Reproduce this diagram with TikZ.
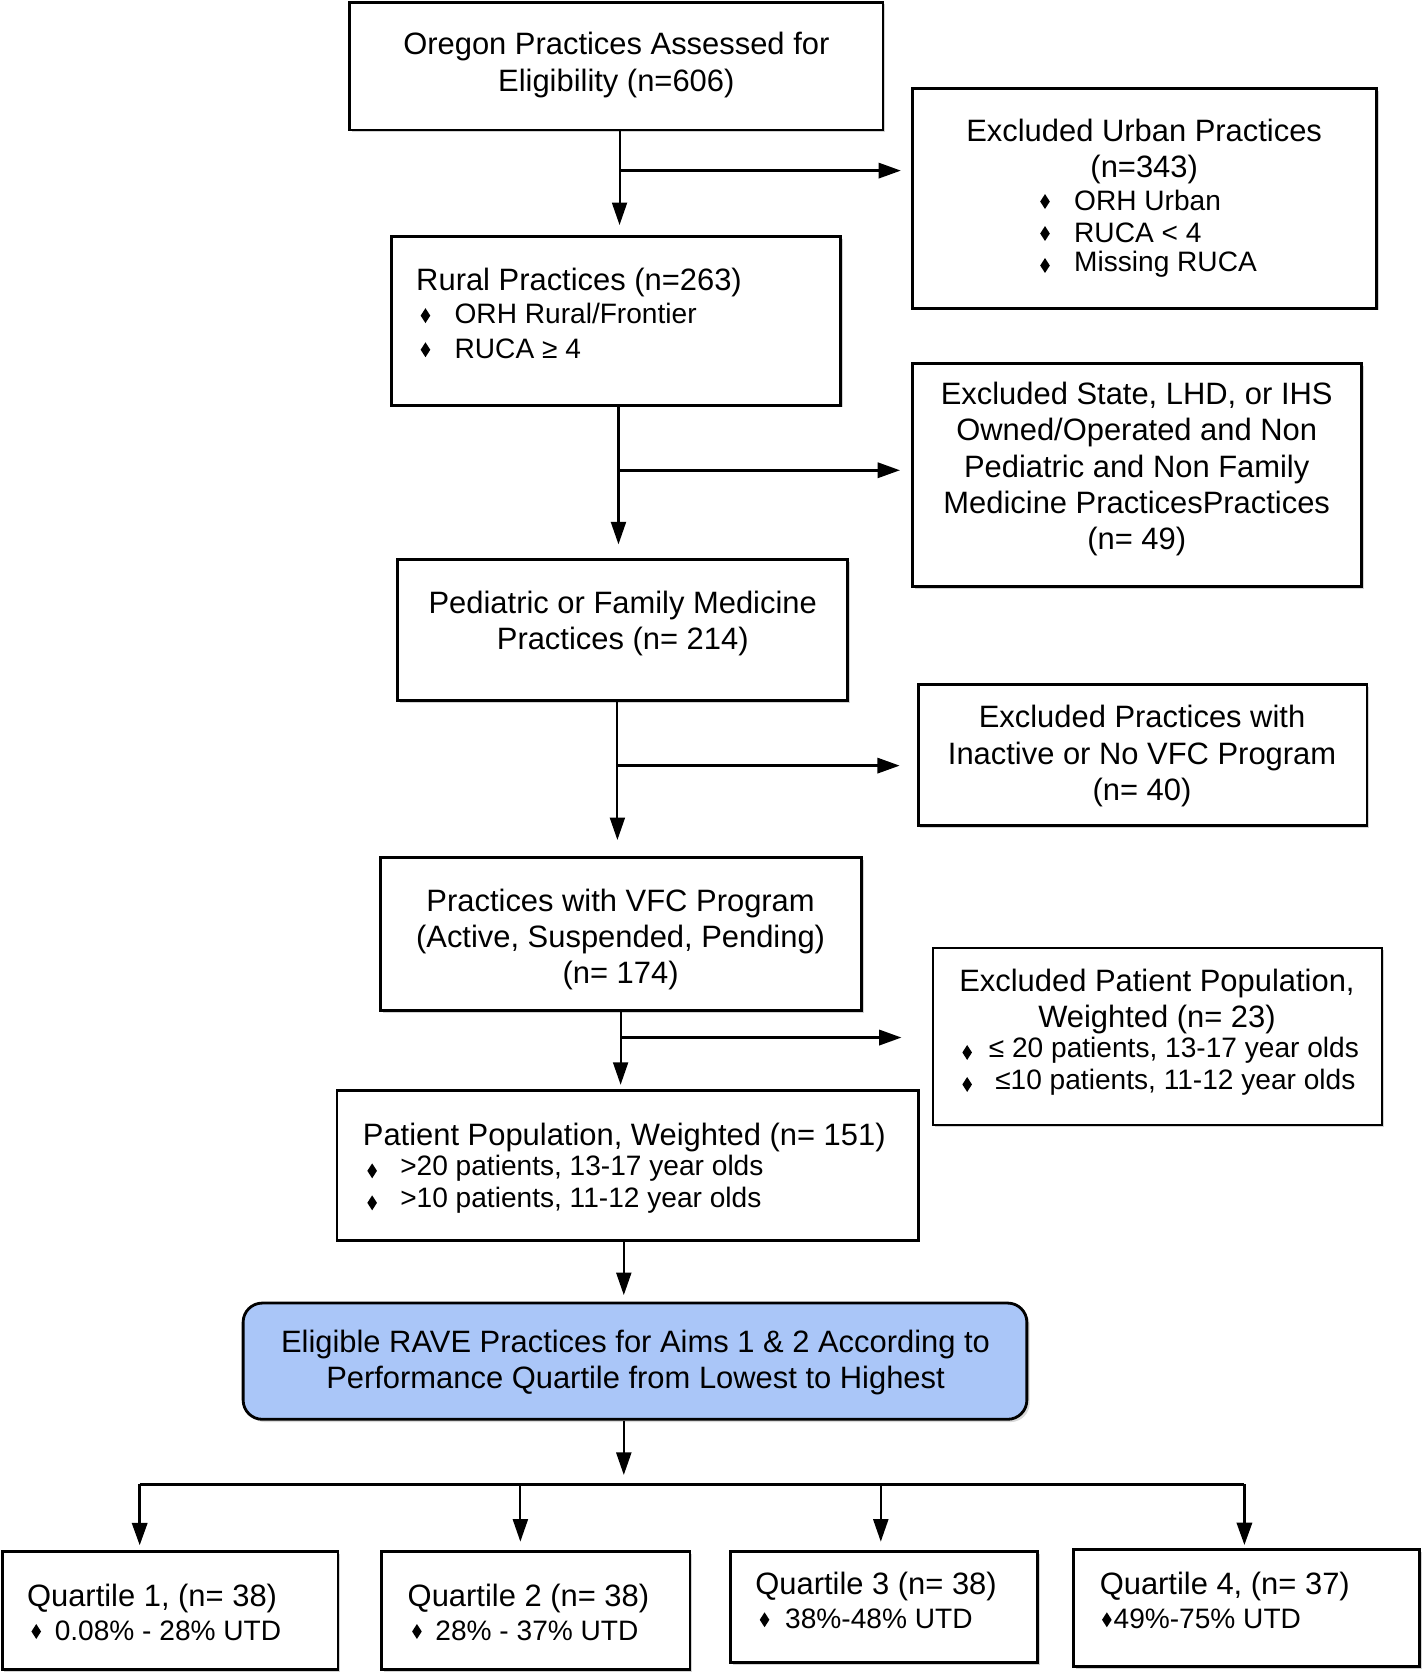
\documentclass[tikz,border=0pt]{standalone}
\usepackage{fontspec}
\setmainfont{Liberation Sans}
\usetikzlibrary{arrows.meta,shadows,fit}
\definecolor{eligblue}{RGB}{170,198,248}
\newcommand\bul[1]{\fill (#1) +(0,-7) -- +(4.5,0) -- +(0,7) -- +(-4.5,0) -- cycle;}
\begin{document}
\begin{tikzpicture}[x=0.02cm,y=-0.02cm,
 box/.style={draw, line width=1.5pt, inner sep=0pt, fill=white,
   drop shadow={shadow xshift=1.2pt, shadow yshift=-1.2pt, opacity=0.35}},
 bluebox/.style={draw, line width=1.5pt, inner sep=0pt, fill=eligblue, rounded corners=0.36cm,
   drop shadow={shadow xshift=1.5pt, shadow yshift=-1.5pt, opacity=0.3}},
 txt/.style={font=\fontsize{16.5}{19.4}\selectfont, inner sep=0pt, align=center},
 ltxt/.style={font=\fontsize{16.5}{19.4}\selectfont, inner sep=0pt, anchor=west},
 btxt/.style={font=\fontsize{15}{18}\selectfont, inner sep=0pt, anchor=west},
 arr/.style={line width=1.1pt, -{Triangle[length=12pt,width=8pt]}},
 barr/.style={line width=1.8pt, -{Triangle[length=12pt,width=8pt]}},
]
\useasboundingbox (0,0) rectangle (1333,1568);

% boxes
\node[box, fit={(328,2) (828,122)}] (top) {};
\node[box, fit={(856,83) (1291,289)}] (urban) {};
\node[box, fit={(367,222) (788,380)}] (rural) {};
\node[box, fit={(856,341) (1277,550)}] (state) {};
\node[box, fit={(373,525) (795,657)}] (ped) {};
\node[box, fit={(861,642) (1282,774)}] (exvfc) {};
\node[box, fit={(357,804) (808,948)}] (vfc) {};
\node[box, fit={(875,889) (1296,1055)}] (expat) {};
\node[box, fit={(316,1023) (861,1163)}] (pat) {};
\node[bluebox, fit={(228,1222) (963,1331)}] (elig) {};
\node[box, fit={(2,1455) (317,1566)}] (q1) {};
\node[box, fit={(358,1455) (647,1566)}] (q2) {};
\node[box, fit={(685,1455) (973,1559)}] (q3) {};
\node[box, fit={(1007,1453) (1331,1563)}] (q4) {};

% texts
\node[txt] at (578,61) {Oregon Practices Assessed for\\Eligibility (n=606)};
\node[txt] at (1073,142) {Excluded Urban Practices\\(n=343)};
\node[btxt] at (1007,188) {ORH Urban}; \bul{980,189}
\node[btxt] at (1007,218) {RUCA < 4}; \bul{980,219}
\node[btxt] at (1007,248) {Missing RUCA}; \bul{980,249}

\node[ltxt] at (390,265) {Rural Practices (n=263)};
\node[btxt] at (426,294) {ORH Rural/Frontier}; \bul{399,296}
\node[btxt] at (426,327) {RUCA ≥ 4}; \bul{399,328}

\node[txt] at (1066,440) {Excluded State, LHD, or IHS\\Owned/Operated and Non\\Pediatric and Non Family\\Medicine PracticesPractices\\(n= 49)};
\node[txt] at (584,585) {Pediatric or Family Medicine\\Practices (n= 214)};
\node[txt] at (1071,709) {Excluded Practices with\\Inactive or No VFC Program\\(n= 40)};
\node[txt] at (582,881) {Practices with VFC Program\\(Active, Suspended, Pending)\\(n= 174)};

\node[txt] at (1085,939) {Excluded Patient Population,\\Weighted (n= 23)};
\node[btxt] at (927,985) {≤ 20 patients, 13-17 year olds}; \bul{907,987}
\node[btxt] at (933,1015) {≤10 patients, 11-12 year olds}; \bul{907,1017}

\node[ltxt] at (340,1067) {Patient Population, Weighted (n= 151)};
\node[btxt] at (375,1096) {>20 patients, 13-17 year olds}; \bul{349,1098}
\node[btxt] at (375,1126) {>10 patients, 11-12 year olds}; \bul{349,1128}

\node[txt] at (596,1278) {Eligible RAVE Practices for Aims 1 \& 2 According to\\Performance Quartile from Lowest to Highest};

\node[ltxt] at (25,1499) {Quartile 1, (n= 38)};
\node[btxt] at (51,1529) {0.08\% - 28\% UTD}; \bul{34,1530}
\node[ltxt] at (382,1499) {Quartile 2 (n= 38)};
\node[btxt] at (408,1529) {28\% - 37\% UTD}; \bul{391,1530}
\node[ltxt] at (708,1488) {Quartile 3 (n= 38)};
\node[btxt] at (736,1518) {38\%-48\% UTD}; \bul{717,1519}
\node[btxt] at (1044,1518) {49\%-75\% UTD}; \bul{1038,1519}
\node[ltxt] at (1031,1488) {Quartile 4, (n= 37)};

% connectors
\coordinate (b1) at (581,160);
\draw[arr, shorten >=5.5pt] (top.south -| b1) -- (rural.north -| b1);
\draw[barr, shorten >=5.5pt] (b1) -- (urban.west |- b1);

\coordinate (b2) at (580,441);
\draw[arr, shorten >=7.5pt] (rural.south -| b2) -- (ped.north -| b2);
\draw[barr, shorten >=6pt] (b2) -- (state.west |- b2);

\coordinate (b3) at (579,718);
\draw[arr, shorten >=8.5pt] (ped.south -| b3) -- (vfc.north -| b3);
\draw[barr, shorten >=9pt] (b3) -- (exvfc.west |- b3);

\coordinate (b4) at (582,973);
\draw[arr, shorten >=2.5pt] (vfc.south -| b4) -- (pat.north -| b4);
\draw[barr, shorten >=16pt] (b4) -- (expat.west |- b4);

\coordinate (b5) at (585,1200);
\draw[arr, shorten >=3.5pt] (pat.south -| b5) -- (elig.north -| b5);

\coordinate (busL) at (131,1392);
\coordinate (busR) at (1167,1392);
\coordinate (bus2) at (488,1392);
\coordinate (bus3) at (826,1392);
\coordinate (busM) at (585,1392);
\draw[arr, shorten >=5pt] (elig.south -| busM) -- (busM);
\draw[line width=1.8pt] (busL) -- (busR);
\draw[arr, line width=1.8pt, shorten >=2.5pt] (busL) -- (q1.north -| busL);
\draw[arr, shorten >=4.5pt] (bus2) -- (q2.north -| bus2);
\draw[arr, shorten >=4.5pt] (bus3) -- (q3.north -| bus3);
\draw[arr, line width=1.8pt, shorten >=1.5pt] (busR) -- (q4.north -| busR);
\end{tikzpicture}
\end{document}
